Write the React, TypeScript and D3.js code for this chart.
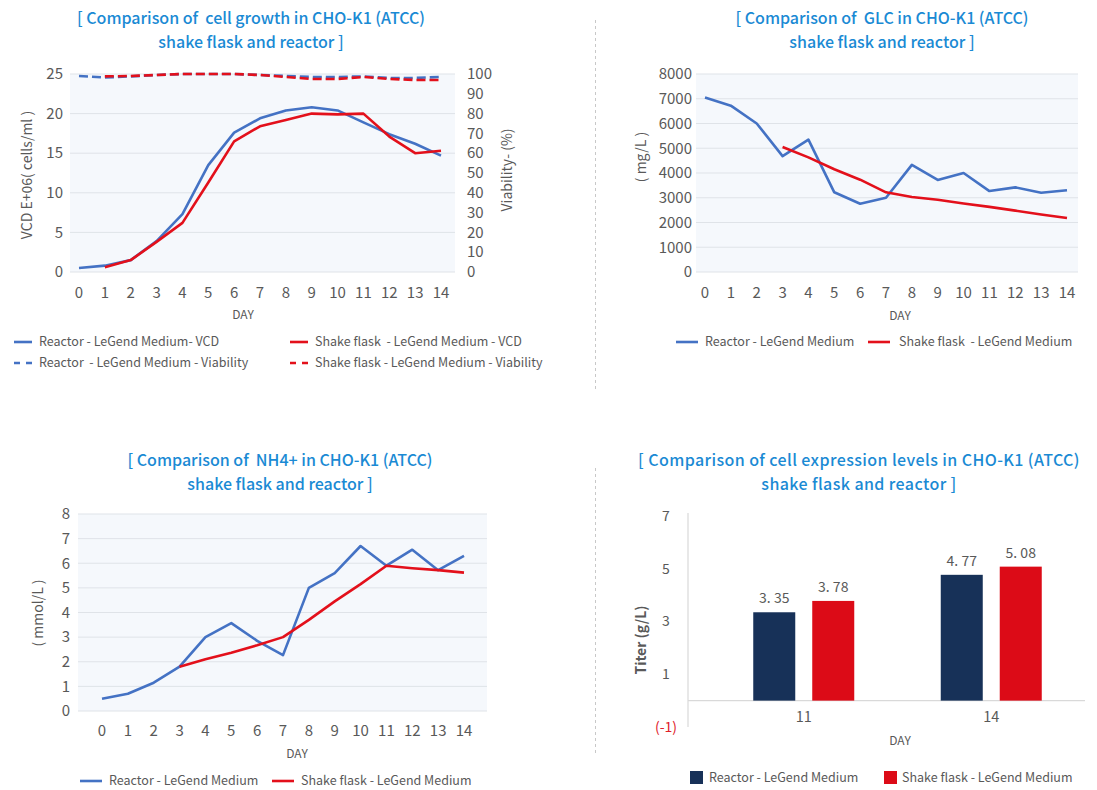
import React from 'react'
import * as d3 from 'd3'

// values
const days = [0, 1, 2, 3, 4, 5, 6, 7, 8, 9, 10, 11, 12, 13, 14]

const vcdReactor = [0.5, 0.8, 1.5, 3.9, 7.3, 13.5, 17.6, 19.4, 20.4, 20.8, 20.4, 18.9, 17.4, 16.2, 14.7]
const vcdFlask = [null, 0.6, 1.5, 3.8, 6.2, 11.3, 16.5, 18.4, 19.2, 20.0, 19.9, 20.0, 17.1, 15.0, 15.3]
const viaReactor = [99, 98.2, 98.8, 99.5, 100, 100, 100, 99.5, 99, 98.5, 98.5, 98.8, 98, 98, 98.5]
const viaFlask = [null, 98.8, 99, 99.5, 100, 100, 100, 99.5, 98.5, 97.5, 97.5, 98.5, 97.5, 97, 97]

const glcReactor = [7050, 6720, 6000, 4680, 5350, 3220, 2760, 3000, 4330, 3720, 4000, 3270, 3420, 3200, 3300]
const glcFlask = [null, null, null, 5050, 4630, 4150, 3730, 3220, 3030, 2920, 2770, 2630, 2480, 2320, 2180]

const nh4Reactor = [0.5, 0.7, 1.15, 1.8, 3.0, 3.57, 2.85, 2.27, 5.0, 5.6, 6.7, 5.9, 6.55, 5.72, 6.3]
const nh4Flask = [null, null, null, 1.8, 2.1, 2.37, 2.67, 3.0, 3.7, 4.45, 5.15, 5.9, 5.8, 5.72, 5.62]

const titerDays = ['11', '14']
const titerSeries = ['Reactor - LeGend Medium', 'Shake flask - LeGend Medium']
const titerReactor = [3.35, 4.77]
const titerFlask = [3.78, 5.08]
const titerLabels = [['3. 35', '3. 78'], ['4. 77', '5. 08']]
const titerTicks = [7, 5, 3, 1, -1]

const vcdTicks = [0, 5, 10, 15, 20, 25]
const viaTicks = [0, 10, 20, 30, 40, 50, 60, 70, 80, 90, 100]
const glcTicks = [0, 1000, 2000, 3000, 4000, 5000, 6000, 7000, 8000]
const nh4Ticks = [0, 1, 2, 3, 4, 5, 6, 7, 8]

const FONT = '"Noto Sans CJK SC", "Noto Sans", sans-serif'
const BLUE = '#4472c4'
const RED = '#e3101b'
const NAVY = '#173158'
const BAR_RED = '#dc0b17'
const TITLE = '#1a8ad4'
const GRID = '#dfe3e8'
const BG = '#f5f8fc'
const TXT = '#595959'

type Series = { values: (number | null)[]; color: string; dash?: string; right?: boolean }

function Title({ x, y, lines, spacing = 0 }: { x: number; y: number; lines: string[]; spacing?: number }) {
  return (
    <text x={x} y={y} textAnchor="middle" fill={TITLE} fontSize={16} fontWeight={500} letterSpacing={spacing} style={{ whiteSpace: 'pre' }}>
      {lines.map((l, i) => (
        <tspan key={i} x={x} dy={i === 0 ? 0 : 24}>{l}</tspan>
      ))}
    </text>
  )
}

function LineChart(props: {
  xRange: [number, number]
  yDomain: [number, number]
  yRange: [number, number]
  yTicks: number[]
  bg: [number, number]
  tickX: number
  xLabelY: number
  yLabel: { text: string; x: number; y: number }
  right?: { domain: [number, number]; ticks: number[]; x: number; label: { text: string; x: number; y: number } }
  series: Series[]
  dayX: number
  dayY: number
}) {
  const x = d3.scaleLinear().domain([0, 14]).range(props.xRange)
  const y = d3.scaleLinear().domain(props.yDomain).range(props.yRange)
  const yR = props.right ? d3.scaleLinear().domain(props.right.domain).range(props.yRange) : y
  return (
    <g>
      <rect x={props.bg[0]} y={props.yRange[1]} width={props.bg[1] - props.bg[0]} height={props.yRange[0] - props.yRange[1]} fill={BG} />
      {props.yTicks.map(t => (
        <g key={t}>
          <line x1={props.bg[0]} x2={props.bg[1]} y1={y(t)} y2={y(t)} stroke={GRID} strokeWidth={1} />
          <text x={props.tickX} y={y(t)} dy="0.35em" textAnchor="end" fontSize={15} fill={TXT}>{t}</text>
        </g>
      ))}
      {props.right && props.right.ticks.map(t => (
        <text key={t} x={props.right!.x} y={yR(t)} dy="0.35em" textAnchor="start" fontSize={15} fill={TXT}>{t}</text>
      ))}
      {days.map(d => (
        <text key={d} x={x(d)} y={props.xLabelY} dy="0.35em" textAnchor="middle" fontSize={15} fill={TXT}>{d}</text>
      ))}
      <text x={props.dayX} y={props.dayY} dy="0.35em" textAnchor="middle" fontSize={12} fill={TXT}>DAY</text>
      <text transform={`translate(${props.yLabel.x},${props.yLabel.y}) rotate(-90)`} dy="0.35em" textAnchor="middle" fontSize={14} fill={TXT} style={{ whiteSpace: 'pre' }}>{props.yLabel.text}</text>
      {props.right && (
        <text transform={`translate(${props.right.label.x},${props.right.label.y}) rotate(-90)`} dy="0.35em" textAnchor="middle" fontSize={14} fill={TXT}>{props.right.label.text}</text>
      )}
      {props.series.map((s, i) => {
        const sc = s.right ? yR : y
        const line = d3.line<number | null>()
          .defined(v => v != null)
          .x((_, j) => x(days[j]))
          .y(v => sc(v as number))
        return <path key={i} d={line(s.values) || ''} fill="none" stroke={s.color} strokeWidth={2.6} strokeDasharray={s.dash} strokeLinejoin="round" />
      })}
    </g>
  )
}

function LegendLine({ x, y, color, text, dash, gap = 7, w = 22 }: { x: number; y: number; color: string; text: string; dash?: string; gap?: number; w?: number }) {
  return (
    <g>
      <line x1={x} x2={x + w} y1={y} y2={y} stroke={color} strokeWidth={2.6} strokeDasharray={dash} />
      <text x={x + w + gap} y={y} dy="0.35em" fontSize={12.5} fill={TXT} style={{ whiteSpace: 'pre' }}>{text}</text>
    </g>
  )
}

function BarChart() {
  const y = d3.scaleLinear().domain([-1, 7]).range([727, 516])
  const x0 = d3.scaleBand<string>().domain(titerDays).range([710, 1085])
  const x1 = d3.scaleBand<string>().domain(titerSeries).range([-50.5, 50.5]).paddingInner(0.288)
  const values = [titerReactor, titerFlask]
  const colors = [NAVY, BAR_RED]
  return (
    <g>
      <line x1={688} x2={688} y1={513} y2={727} stroke="#d9d9d9" strokeWidth={1.2} />
      <line x1={688} x2={1085} y1={y(0)} y2={y(0)} stroke="#d9d9d9" strokeWidth={1.2} />
      {titerTicks.map(t => (
        <text key={t} x={666} y={y(t)} dy="0.35em" textAnchor="middle" fontSize={14} fill={t < 0 ? '#e0202a' : TXT}>{t < 0 ? `(${t})` : t}</text>
      ))}
      {titerDays.map((d, i) => {
        const cx = (x0(d) as number) + x0.bandwidth() / 2
        return (
          <g key={d}>
            {titerSeries.map((s, k) => {
              const bx = cx + (x1(s) as number)
              const v = values[k][i]
              return (
                <g key={s}>
                  <rect x={bx} y={y(v)} width={x1.bandwidth()} height={y(0) - y(v)} fill={colors[k]} />
                  <text x={bx + x1.bandwidth() / 2} y={y(v) - 9} textAnchor="middle" fontSize={14} fill={TXT} style={{ whiteSpace: 'pre' }}>{titerLabels[i][k]}</text>
                </g>
              )
            })}
            <text x={cx} y={717} dy="0.35em" textAnchor="middle" fontSize={14.5} fill={TXT}>{d}</text>
          </g>
        )
      })}
      <text x={900} y={741} dy="0.35em" textAnchor="middle" fontSize={12} fill={TXT}>DAY</text>
      <text transform="translate(641,640) rotate(-90)" dy="0.35em" textAnchor="middle" fontSize={14} fontWeight={600} fill={TXT}>Titer (g/L)</text>
      <rect x={690} y={771} width={13} height={13} fill={NAVY} />
      <text x={709} y={778} dy="0.35em" fontSize={12.5} fill={TXT}>{titerSeries[0]}</text>
      <rect x={884} y={771} width={13} height={13} fill={BAR_RED} />
      <text x={902} y={778} dy="0.35em" fontSize={12.5} fill={TXT}>{titerSeries[1]}</text>
    </g>
  )
}

export default function App() {
  return (
    <svg width={1097} height={790} style={{ position: 'absolute', left: 0, top: 0, background: '#fff' }} fontFamily={FONT}>
      <line x1={595.5} x2={595.5} y1={20} y2={390} stroke="#c8c8c8" strokeDasharray="3,3" />
      <line x1={595.5} x2={595.5} y1={468} y2={755} stroke="#c8c8c8" strokeDasharray="3,3" />

      <Title x={251} y={24} lines={['[ Comparison of  cell growth in CHO-K1 (ATCC)', 'shake flask and reactor ]']} />
      <LineChart
        xRange={[79, 441]} yDomain={[0, 25]} yRange={[272, 74]} yTicks={vcdTicks} bg={[70, 455]}
        tickX={63} xLabelY={293}
        yLabel={{ text: 'VCD E+06( cells/ml )', x: 27, y: 175 }}
        right={{ domain: [0, 100], ticks: viaTicks, x: 467, label: { text: 'Viability- (%)', x: 507, y: 170 } }}
        series={[
          { values: viaReactor, color: BLUE, dash: '9,4', right: true },
          { values: viaFlask, color: RED, dash: '9,4', right: true },
          { values: vcdReactor, color: BLUE },
          { values: vcdFlask, color: RED },
        ]}
        dayX={243} dayY={315}
      />
      <LegendLine x={14} y={342} color={BLUE} text="Reactor - LeGend Medium- VCD" w={18} />
      <LegendLine x={14} y={363} color={BLUE} text="Reactor  - LeGend Medium - Viability" dash="6,6" w={18} />
      <LegendLine x={290} y={342} color={RED} text="Shake flask  - LeGend Medium - VCD" w={18} />
      <LegendLine x={290} y={363} color={RED} text="Shake flask - LeGend Medium - Viability" dash="6,6" w={18} />

      <Title x={882} y={24} lines={['[ Comparison of  GLC in CHO-K1 (ATCC)', 'shake flask and reactor ]']} />
      <LineChart
        xRange={[705, 1067]} yDomain={[0, 8000]} yRange={[272, 74]} yTicks={glcTicks} bg={[696, 1078]}
        tickX={692} xLabelY={293}
        yLabel={{ text: '( mg/L )', x: 641, y: 157 }}
        series={[
          { values: glcReactor, color: BLUE },
          { values: glcFlask, color: RED },
        ]}
        dayX={900} dayY={316}
      />
      <LegendLine x={676} y={342} color={BLUE} text="Reactor - LeGend Medium" />
      <LegendLine x={868} y={342} color={RED} text="Shake flask  - LeGend Medium" gap={9} />

      <Title x={280} y={466} lines={['[ Comparison of  NH4+ in CHO-K1 (ATCC)', 'shake flask and reactor ]']} />
      <LineChart
        xRange={[102, 464]} yDomain={[0, 8]} yRange={[711, 514]} yTicks={nh4Ticks} bg={[78, 487]}
        tickX={70} xLabelY={731}
        yLabel={{ text: '( mmol/L )', x: 38, y: 613 }}
        series={[
          { values: nh4Reactor, color: BLUE },
          { values: nh4Flask, color: RED },
        ]}
        dayX={297} dayY={754}
      />
      <LegendLine x={80} y={781} color={BLUE} text="Reactor - LeGend Medium" />
      <LegendLine x={272} y={781} color={RED} text="Shake flask - LeGend Medium" />

      <Title x={859} y={466} spacing={0.4} lines={['[ Comparison of cell expression levels in CHO-K1 (ATCC)', 'shake flask and reactor ]']} />
      <BarChart />
    </svg>
  )
}
